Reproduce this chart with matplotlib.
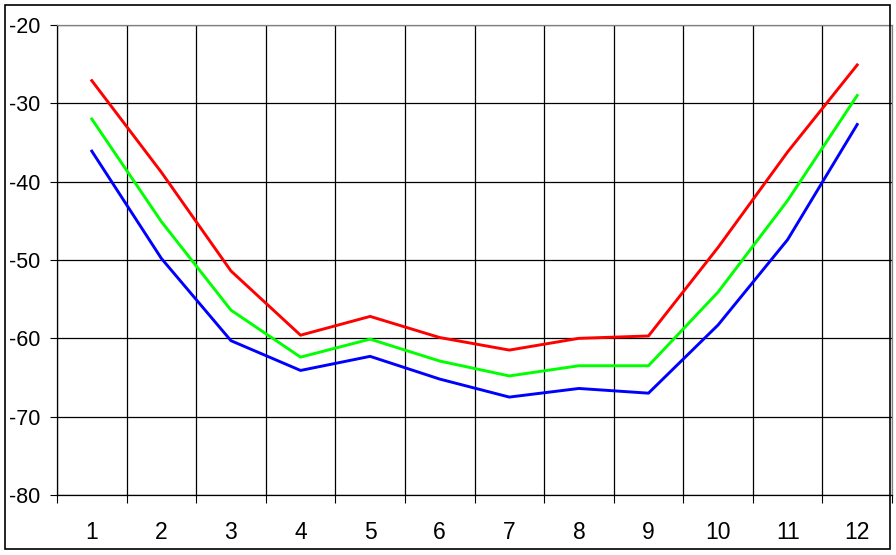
import matplotlib
matplotlib.use('Agg')
import matplotlib.pyplot as plt
from matplotlib.patches import Rectangle
import numpy as np

plt.rcParams['font.family'] = ['Liberation Sans', 'DejaVu Sans']
plt.rcParams['axes.unicode_minus'] = False

months = [1, 2, 3, 4, 5, 6, 7, 8, 9, 10, 11, 12]
red_vals = [-27.1, -38.8, -51.4, -59.6, -57.2, -59.9, -61.5, -60.0, -59.7, -48.4, -36.2, -25.1]
green_vals = [-32.0, -45.1, -56.4, -62.4, -60.1, -62.9, -64.8, -63.5, -63.5, -54.1, -42.4, -29.0]
blue_vals = [-36.1, -49.8, -60.3, -64.1, -62.3, -65.2, -67.5, -66.4, -67.0, -58.3, -47.4, -32.7]

fig = plt.figure(figsize=(8.96, 5.55), dpi=100)
ax = fig.add_axes([57 / 896, 1 - 495 / 555, 835 / 896, 470 / 555])

x = np.arange(1, len(months) + 1)
ax.plot(x, red_vals, color='#ff0000', lw=2.1)
ax.plot(x, green_vals, color='#00ff00', lw=2.1)
ax.plot(x, blue_vals, color='#0000ff', lw=2.1)

ax.set_xlim(0.5, len(months) + 0.5)
ax.set_ylim(-80, -20)
ax.set_yticks(np.arange(-80, -19, 10))

# category boundaries carry the vertical gridlines and tick marks
ax.set_xticks(x)
ax.set_xticklabels([str(m) for m in months])
ax.set_xticks(np.arange(0.5, len(months) + 1, 1), minor=True)
ax.tick_params(axis='x', which='major', length=0, pad=19, labelsize=16.5)
ax.tick_params(axis='x', which='minor', length=6, width=0.8, direction='out', color='black')
ax.tick_params(axis='y', length=5, width=0.8, direction='out', pad=7, labelsize=15.5)

ax.grid(True, axis='y', color='black', lw=0.9)
ax.grid(True, axis='x', which='minor', color='black', lw=0.9)
ax.set_axisbelow(True)

ax.spines['top'].set_color('#808080')
ax.spines['right'].set_color('#808080')
ax.spines['left'].set_color('black')
ax.spines['bottom'].set_color('black')
for s in ax.spines.values():
    s.set_linewidth(0.9)

# outer chart frame
fig.patches.append(Rectangle((5 / 896, 1 - 549 / 555), 885 / 896, 544 / 555,
                             transform=fig.transFigure, fill=False,
                             edgecolor='black', lw=1.2))

fig.savefig('out.png', dpi=100)
